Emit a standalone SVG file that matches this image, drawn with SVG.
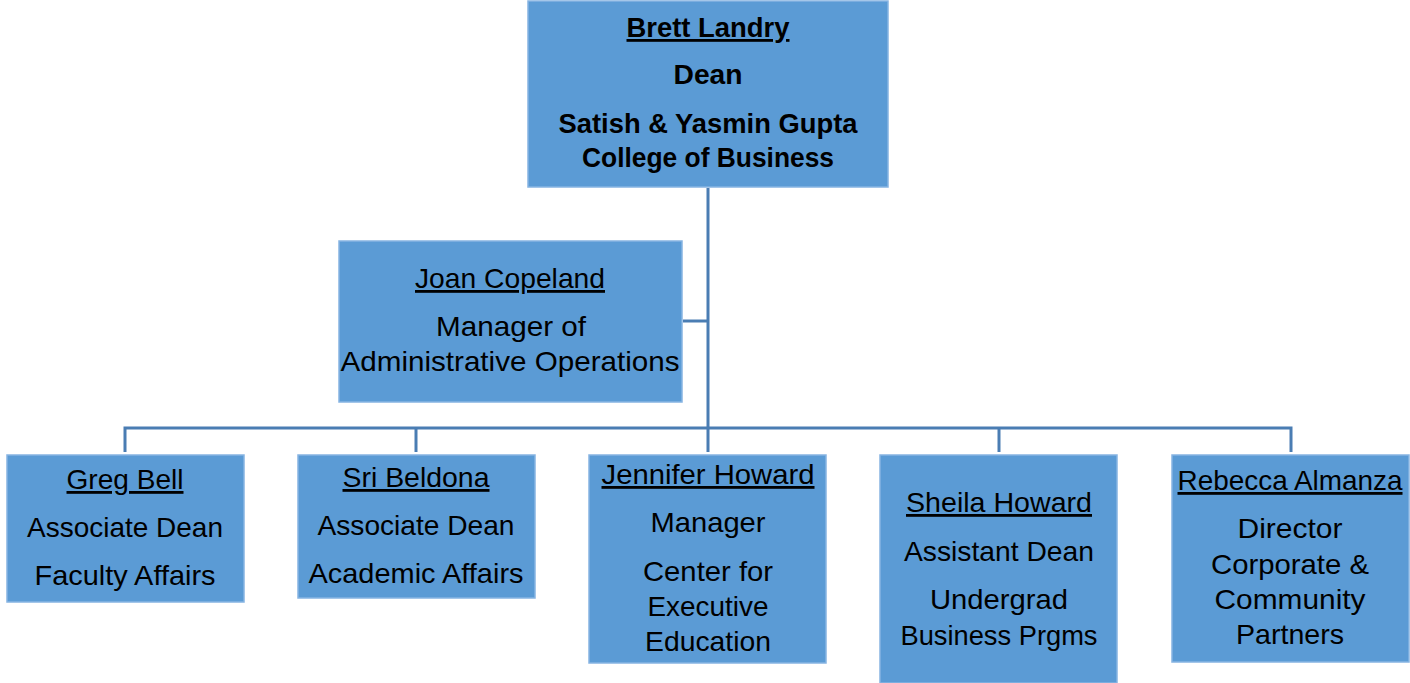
<svg xmlns="http://www.w3.org/2000/svg" width="1410" height="683" viewBox="0 0 1410 683">
<style>
.box{fill:#5b9bd5;stroke:#86b4e2;stroke-width:1.5}
.c{fill:none;stroke:#4a7db3;stroke-width:3}
text{font-family:"Liberation Sans",Arial,sans-serif;font-size:28px;fill:#000;text-anchor:middle}
.b{font-weight:bold}
.u{text-decoration:underline}
</style>
<rect width="1410" height="683" fill="#fff"/>
<g id="connectors">
<path class="c" d="M708,188 V452"/>
<path class="c" d="M683,321 H708"/>
<path class="c" d="M125,452 V428 H1291 V452"/>
<path class="c" d="M416,428 V452"/>
<path class="c" d="M999,428 V452"/>
</g>
<g id="dean">
<rect class="box" x="528" y="1" width="360" height="186"/>
<text class="b u" x="708" y="37" textLength="163" lengthAdjust="spacingAndGlyphs">Brett Landry</text>
<text class="b" x="708" y="84" textLength="69" lengthAdjust="spacingAndGlyphs">Dean</text>
<text class="b" x="708" y="133" textLength="299" lengthAdjust="spacingAndGlyphs">Satish &amp; Yasmin Gupta</text>
<text class="b" x="708" y="167" textLength="252" lengthAdjust="spacingAndGlyphs">College of Business</text>
</g>
<g id="joan">
<rect class="box" x="339" y="241" width="343" height="161"/>
<text class="u" x="510" y="288" textLength="190" lengthAdjust="spacingAndGlyphs">Joan Copeland</text>
<text x="511" y="336" textLength="150" lengthAdjust="spacingAndGlyphs">Manager of</text>
<text x="510" y="371" textLength="339" lengthAdjust="spacingAndGlyphs">Administrative Operations</text>
</g>
<g id="greg">
<rect class="box" x="7" y="455" width="237" height="147"/>
<text class="u" x="125" y="489" textLength="117" lengthAdjust="spacingAndGlyphs">Greg Bell</text>
<text x="125" y="537" textLength="196" lengthAdjust="spacingAndGlyphs">Associate Dean</text>
<text x="125" y="585" textLength="181" lengthAdjust="spacingAndGlyphs">Faculty Affairs</text>
</g>
<g id="sri">
<rect class="box" x="298" y="455" width="237" height="143"/>
<text class="u" x="416" y="487" textLength="147" lengthAdjust="spacingAndGlyphs">Sri Beldona</text>
<text x="416" y="535" textLength="197" lengthAdjust="spacingAndGlyphs">Associate Dean</text>
<text x="416" y="583" textLength="215" lengthAdjust="spacingAndGlyphs">Academic Affairs</text>
</g>
<g id="jennifer">
<rect class="box" x="589" y="455" width="237" height="208"/>
<text class="u" x="708" y="484" textLength="213" lengthAdjust="spacingAndGlyphs">Jennifer Howard</text>
<text x="708" y="532" textLength="115" lengthAdjust="spacingAndGlyphs">Manager</text>
<text x="708" y="581" textLength="130" lengthAdjust="spacingAndGlyphs">Center for</text>
<text x="708" y="616" textLength="121" lengthAdjust="spacingAndGlyphs">Executive</text>
<text x="708" y="651" textLength="126" lengthAdjust="spacingAndGlyphs">Education</text>
</g>
<g id="sheila">
<rect class="box" x="880" y="455" width="237" height="228"/>
<text class="u" x="999" y="512" textLength="186" lengthAdjust="spacingAndGlyphs">Sheila Howard</text>
<text x="999" y="561" textLength="190" lengthAdjust="spacingAndGlyphs">Assistant Dean</text>
<text x="999" y="609" textLength="138" lengthAdjust="spacingAndGlyphs">Undergrad</text>
<text x="999" y="645" textLength="197" lengthAdjust="spacingAndGlyphs">Business Prgms</text>
</g>
<g id="rebecca">
<rect class="box" x="1172" y="455" width="237" height="207"/>
<text class="u" x="1290" y="490" textLength="225" lengthAdjust="spacingAndGlyphs">Rebecca Almanza</text>
<text x="1290" y="538" textLength="105" lengthAdjust="spacingAndGlyphs">Director</text>
<text x="1290" y="574" textLength="158" lengthAdjust="spacingAndGlyphs">Corporate &amp;</text>
<text x="1290" y="609" textLength="151" lengthAdjust="spacingAndGlyphs">Community</text>
<text x="1290" y="644" textLength="108" lengthAdjust="spacingAndGlyphs">Partners</text>
</g>
</svg>
